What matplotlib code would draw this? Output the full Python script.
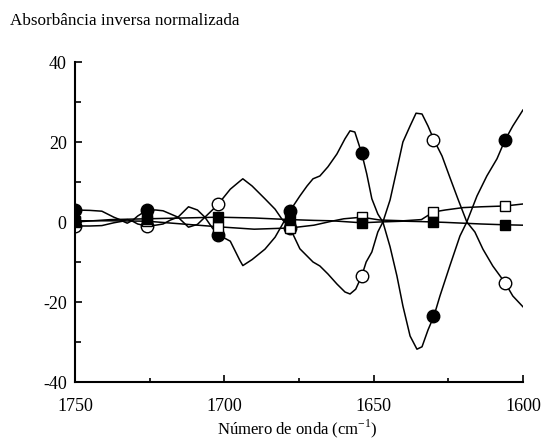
import matplotlib
matplotlib.use('Agg')
import matplotlib.pyplot as plt
from matplotlib.ticker import MultipleLocator

plt.rcParams['font.family'] = ['Liberation Serif', 'DejaVu Serif']
plt.rcParams['axes.unicode_minus'] = False

# spectra (wavenumber, normalised inverse absorbance)
wn_a = [1750, 1745, 1741, 1737, 1734, 1732.5, 1731, 1729, 1726, 1723, 1720.5, 1718,
        1715.5, 1712, 1709, 1706.5, 1704, 1702, 1698, 1694.8, 1693.8, 1690.7, 1686.4,
        1683, 1680.7, 1678, 1674.7, 1672.3, 1670.3, 1668, 1665.3, 1662.3, 1659.6,
        1657.9, 1656, 1654, 1652.5, 1650.6, 1648.6, 1646.9, 1644.5, 1642.2, 1640.2,
        1637.8, 1635.8, 1633.8, 1631.8, 1629.8, 1627.1, 1624.5, 1621.8, 1618.8,
        1616.1, 1613.4, 1610.1, 1606, 1603.4, 1600]
val_a = [3.0, 2.9, 2.7, 1.2, 0.3, 0.6, 0.2, 1.5, 2.9, 3.0, 2.8, 2.0,
         1.2, -1.3, -0.6, 1.2, 3.0, 4.5, 8.2, 10.2, 10.8, 9.0, 5.8,
         3.2, 0.7, -1.5, -6.7, -8.5, -10.0, -11.0, -13.0, -15.5, -17.5,
         -18.0, -16.8, -13.5, -10.0, -7.5, -2.5, 0.0, 5.5, 13.2, 20.0,
         24.0, 27.2, 27.0, 24.0, 20.5, 16.5, 11.2, 5.8, 0.0,
         -2.5, -6.8, -11.0, -15.2, -18.5, -21.2]

wn_b = [1750, 1745, 1741, 1737, 1734, 1732.5, 1731, 1729, 1726, 1723, 1720.5, 1718,
        1715.5, 1712, 1709, 1706.5, 1704, 1702, 1698, 1694.8, 1693.8, 1690.7, 1686.4,
        1683, 1680.7, 1678, 1674.7, 1672.3, 1670.3, 1668, 1665.3, 1662.3, 1659.6,
        1657.9, 1656.3, 1654, 1652.3, 1650.6, 1648.6, 1646.9, 1644.5, 1642.2, 1640.2,
        1637.8, 1635.5, 1633.8, 1631.8, 1629.8, 1627.8, 1624.5, 1621.1, 1618.8,
        1615.4, 1612.1, 1608.7, 1606, 1603.4, 1600]
val_b = [-1.0, -1.0, -0.9, -0.2, 0.2, -0.3, 0.3, -0.5, -1.0, -0.8, -0.5, 0.5,
         1.2, 3.8, 3.0, 1.2, -1.5, -3.2, -4.8, -9.6, -10.9, -9.4, -6.8,
         -3.8, -0.8, 2.8, 6.5, 9.0, 10.8, 11.5, 13.8, 17.0, 20.8,
         22.8, 22.5, 17.2, 12.0, 5.8, 2.0, 0.0, -6.2, -13.5, -21.0,
         -28.5, -31.8, -31.2, -27.0, -23.5, -18.5, -11.0, -3.5, 0.0,
         6.5, 11.5, 15.8, 20.5, 24.0, 28.0]

wn_s = [1750, 1738, 1726, 1714, 1702, 1690, 1678, 1670, 1664, 1660, 1654, 1648,
        1640, 1634, 1630, 1626, 1620, 1614, 1606, 1600]
val_os = [0.3, 0.3, 0.2, -0.5, -1.2, -1.8, -1.5, -0.8, 0.2, 0.8, 1.2, 0.5,
          0.3, 0.6, 2.5, 3.0, 3.6, 3.8, 4.0, 4.5]
val_fs = [0.0, 0.6, 0.8, 1.0, 1.2, 1.0, 0.6, 0.4, 0.3, 0.1, -0.2, 0.0,
          0.2, 0.1, 0.0, -0.1, -0.3, -0.5, -0.7, -0.8]

# symbols placed every 24 cm-1
wn_m = [1750, 1726, 1702, 1678, 1654, 1630, 1606]
fc = [3.0, 2.9, -3.2, 2.8, 17.2, -23.5, 20.5]
oc = [-1.0, -1.0, 4.5, -1.5, -13.5, 20.5, -15.2]
fs = [0.0, 0.8, 1.2, 0.6, -0.2, 0.0, -0.7]
os_ = [0.3, 0.2, -1.2, -1.5, 1.2, 2.5, 4.0]

fig = plt.figure(figsize=(5.43, 4.39), dpi=100)
ax = fig.add_axes([0.1381, 0.1276, 0.8250, 0.7289])

lw = 1.1
ax.plot(wn_a, val_a, color='black', lw=lw)
ax.plot(wn_b, val_b, color='black', lw=lw)
ax.plot(wn_s, val_os, color='black', lw=lw)
ax.plot(wn_s, val_fs, color='black', lw=lw)

ax.plot(wn_m, oc, 'o', ms=9, mfc='white', mec='black', mew=1.0, ls='none')
ax.plot(wn_m, fc, 'o', ms=9, mfc='black', mec='black', ls='none')
ax.plot(wn_m, os_, 's', ms=7.2, mfc='white', mec='black', mew=1.0, ls='none')
ax.plot(wn_m, fs, 's', ms=7.2, mfc='black', mec='black', ls='none')

ax.set_xlim(1750, 1600)
ax.set_ylim(-40, 40)
ax.xaxis.set_major_locator(MultipleLocator(50))
ax.xaxis.set_minor_locator(MultipleLocator(25))
ax.yaxis.set_major_locator(MultipleLocator(20))
ax.yaxis.set_minor_locator(MultipleLocator(10))

for s in ['top', 'right']:
    ax.spines[s].set_visible(False)
for s in ['left', 'bottom']:
    ax.spines[s].set_linewidth(1.5)

ax.tick_params(which='both', direction='in', width=1.2, labelsize=13)
ax.tick_params(axis='x', which='major', length=5, pad=11)
ax.tick_params(axis='x', which='minor', length=3)
ax.tick_params(axis='y', which='major', length=5, pad=6)
ax.tick_params(axis='y', which='minor', length=4)

fig.text(10 / 543, 1 - 21 / 439, 'Absorbância inversa normalizada',
         fontsize=12.3, ha='left', va='center')
fig.text(297 / 543, 1 - 429 / 439, 'Número de onda (cm$^{\\mathregular{-1}}$)',
         fontsize=12, ha='center', va='center')

fig.savefig('out.png', dpi=100)
